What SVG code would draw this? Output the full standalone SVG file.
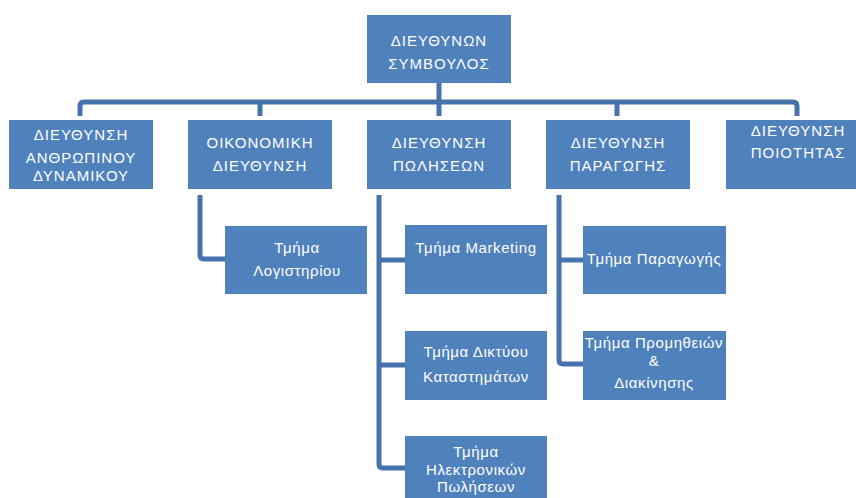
<svg xmlns="http://www.w3.org/2000/svg" width="856" height="498" viewBox="0 0 856 498">
  <style>
    .box { fill: #4f81bd; }
    .lbl { fill: #ffffff; font-family: "Liberation Sans", Arial, sans-serif; font-size: 15px; text-anchor: middle; }
    .caps { letter-spacing: 1px; }
    .sub { letter-spacing: 0.6px; }
    .wire { fill: none; stroke: #4673ab; stroke-width: 5; stroke-linecap: butt; stroke-linejoin: round; }
  </style>
  <rect width="856" height="498" fill="#ffffff"/>

  <!-- connectors -->
  <g id="connectors">
    <path class="wire" d="M439,83 V102"/>
    <path class="wire" d="M80,116 V106 Q80,102 84,102 H793 Q797,102 797,106 V116"/>
    <path class="wire" d="M260,102 V116"/>
    <path class="wire" d="M439,102 V116"/>
    <path class="wire" d="M617,102 V116"/>
    <path class="wire" d="M200,195 V255 Q200,259 204,259 H225"/>
    <path class="wire" d="M379,195 V464 Q379,468 383,468 H405"/>
    <path class="wire" d="M379,260 H405"/>
    <path class="wire" d="M379,365 H405"/>
    <path class="wire" d="M559,195 V360 Q559,364 563,364 H583"/>
    <path class="wire" d="M559,260 H583"/>
  </g>

  <!-- chief executive -->
  <g id="ceo">
    <rect class="box" x="367" y="15" width="144" height="68"/>
    <text class="lbl caps" x="439" y="46">ΔΙΕΥΘΥΝΩΝ</text>
    <text class="lbl caps" x="439" y="69">ΣΥΜΒΟΥΛΟΣ</text>
  </g>

  <!-- directorates -->
  <g id="hr">
    <rect class="box" x="9" y="120" width="144" height="69"/>
    <text class="lbl caps" x="81" y="140">ΔΙΕΥΘΥΝΣΗ</text>
    <text class="lbl caps" x="81" y="163">ΑΝΘΡΩΠΙΝΟΥ</text>
    <text class="lbl caps" x="81" y="181">ΔΥΝΑΜΙΚΟΥ</text>
  </g>
  <g id="finance">
    <rect class="box" x="188" y="120" width="144" height="69"/>
    <text class="lbl caps" x="260" y="148">ΟΙΚΟΝΟΜΙΚΗ</text>
    <text class="lbl caps" x="260" y="171">ΔΙΕΥΘΥΝΣΗ</text>
  </g>
  <g id="sales">
    <rect class="box" x="367" y="120" width="144" height="69"/>
    <text class="lbl caps" x="439" y="148">ΔΙΕΥΘΥΝΣΗ</text>
    <text class="lbl caps" x="439" y="171">ΠΩΛΗΣΕΩΝ</text>
  </g>
  <g id="production">
    <rect class="box" x="546" y="120" width="144" height="69"/>
    <text class="lbl caps" x="618" y="148">ΔΙΕΥΘΥΝΣΗ</text>
    <text class="lbl caps" x="618" y="171">ΠΑΡΑΓΩΓΗΣ</text>
  </g>
  <g id="quality">
    <rect class="box" x="726" y="120" width="144" height="69"/>
    <text class="lbl caps" x="798" y="136">ΔΙΕΥΘΥΝΣΗ</text>
    <text class="lbl caps" x="798" y="158">ΠΟΙΟΤΗΤΑΣ</text>
  </g>

  <!-- departments -->
  <g id="accounting">
    <rect class="box" x="225" y="226" width="142" height="68"/>
    <text class="lbl sub" x="297" y="253">Τμήμα</text>
    <text class="lbl sub" x="297" y="276">Λογιστηρίου</text>
  </g>
  <g id="marketing">
    <rect class="box" x="405" y="225" width="142" height="69"/>
    <text class="lbl sub" x="476" y="253">Τμήμα Marketing</text>
  </g>
  <g id="stores">
    <rect class="box" x="405" y="331" width="142" height="69"/>
    <text class="lbl sub" x="476" y="357">Τμήμα Δικτύου</text>
    <text class="lbl sub" x="476" y="382">Καταστημάτων</text>
  </g>
  <g id="eshop">
    <rect class="box" x="405" y="436" width="142" height="69"/>
    <text class="lbl sub" x="476" y="457">Τμήμα</text>
    <text class="lbl sub" x="476" y="475">Ηλεκτρονικών</text>
    <text class="lbl sub" x="476" y="492">Πωλήσεων</text>
  </g>
  <g id="manufacturing">
    <rect class="box" x="583" y="226" width="143" height="68"/>
    <text class="lbl sub" x="654" y="264">Τμήμα Παραγωγής</text>
  </g>
  <g id="supply">
    <rect class="box" x="583" y="331" width="143" height="69"/>
    <text class="lbl sub" x="654" y="348">Τμήμα Προμηθειών</text>
    <text class="lbl sub" x="654" y="366">&amp;</text>
    <text class="lbl sub" x="654" y="388">Διακίνησης</text>
  </g>
</svg>
